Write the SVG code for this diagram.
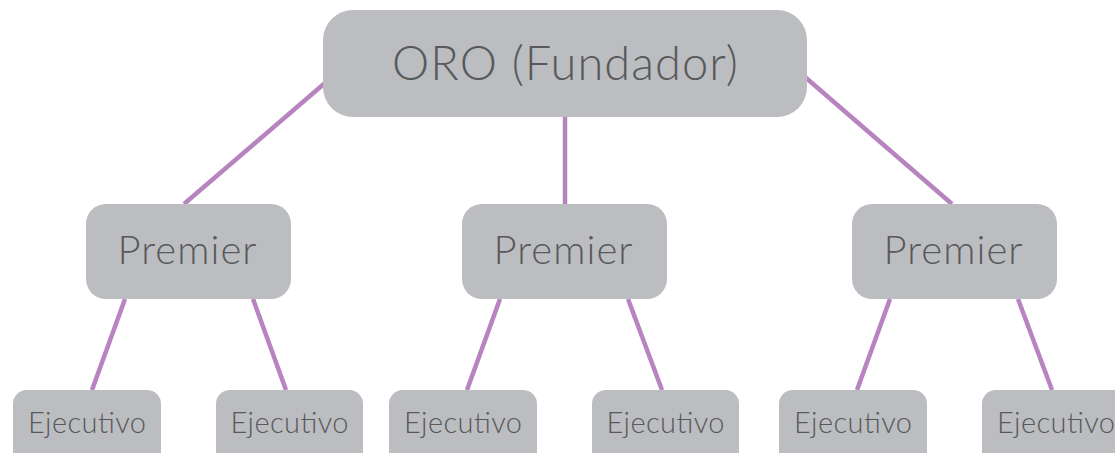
<svg xmlns="http://www.w3.org/2000/svg" width="1115" height="453" viewBox="0 0 1115 453">
<style>
.box{fill:#bcbdc1;}
.t{font-family:Lato,"Open Sans",sans-serif;fill:#58595b;text-anchor:middle;font-weight:300;}
.big{font-size:47px;}
.mid{font-size:40px;}
.sm{font-size:29px;}
.c{stroke:#b784bf;stroke-width:4.5;fill:none;stroke-linecap:butt;}
</style>
<rect width="1115" height="453" fill="#ffffff"/>
<g id="connectors">
<line class="c" x1="325" y1="83" x2="184" y2="204"/>
<line class="c" x1="565" y1="117" x2="565" y2="204"/>
<line class="c" x1="805" y1="77" x2="952" y2="204"/>
<line class="c" x1="125" y1="299" x2="92" y2="390"/>
<line class="c" x1="253" y1="299" x2="286" y2="390"/>
<line class="c" x1="500" y1="299" x2="467" y2="390"/>
<line class="c" x1="628" y1="299" x2="662" y2="390"/>
<line class="c" x1="890" y1="299" x2="857" y2="390"/>
<line class="c" x1="1018" y1="299" x2="1052" y2="390"/>
</g>
<g id="oro"><rect class="box" x="323" y="10" width="484" height="107" rx="30"/><text class="t big" x="565" y="80" textLength="346" lengthAdjust="spacing">ORO (Fundador)</text></g>
<g id="premier1"><rect class="box" x="86" y="204" width="205" height="95" rx="20"/><text class="t mid" x="187" y="264" textLength="139" lengthAdjust="spacing">Premier</text></g>
<g id="premier2"><rect class="box" x="462" y="204" width="205" height="95" rx="20"/><text class="t mid" x="563" y="264" textLength="139" lengthAdjust="spacing">Premier</text></g>
<g id="premier3"><rect class="box" x="852" y="204" width="205" height="95" rx="20"/><text class="t mid" x="953" y="264" textLength="139" lengthAdjust="spacing">Premier</text></g>
<g id="ejec1"><rect class="box" x="13" y="390" width="148" height="80" rx="14"/><text class="t sm" x="87" y="433" textLength="118" lengthAdjust="spacing">Ejecutivo</text></g>
<g id="ejec2"><rect class="box" x="216" y="390" width="147" height="80" rx="14"/><text class="t sm" x="289.5" y="433" textLength="118" lengthAdjust="spacing">Ejecutivo</text></g>
<g id="ejec3"><rect class="box" x="389" y="390" width="148" height="80" rx="14"/><text class="t sm" x="463" y="433" textLength="118" lengthAdjust="spacing">Ejecutivo</text></g>
<g id="ejec4"><rect class="box" x="592" y="390" width="147" height="80" rx="14"/><text class="t sm" x="665.5" y="433" textLength="118" lengthAdjust="spacing">Ejecutivo</text></g>
<g id="ejec5"><rect class="box" x="779" y="390" width="148" height="80" rx="14"/><text class="t sm" x="853" y="433" textLength="118" lengthAdjust="spacing">Ejecutivo</text></g>
<g id="ejec6"><rect class="box" x="982" y="390" width="148" height="80" rx="14"/><text class="t sm" x="1056" y="433" textLength="118" lengthAdjust="spacing">Ejecutivo</text></g>
</svg>
